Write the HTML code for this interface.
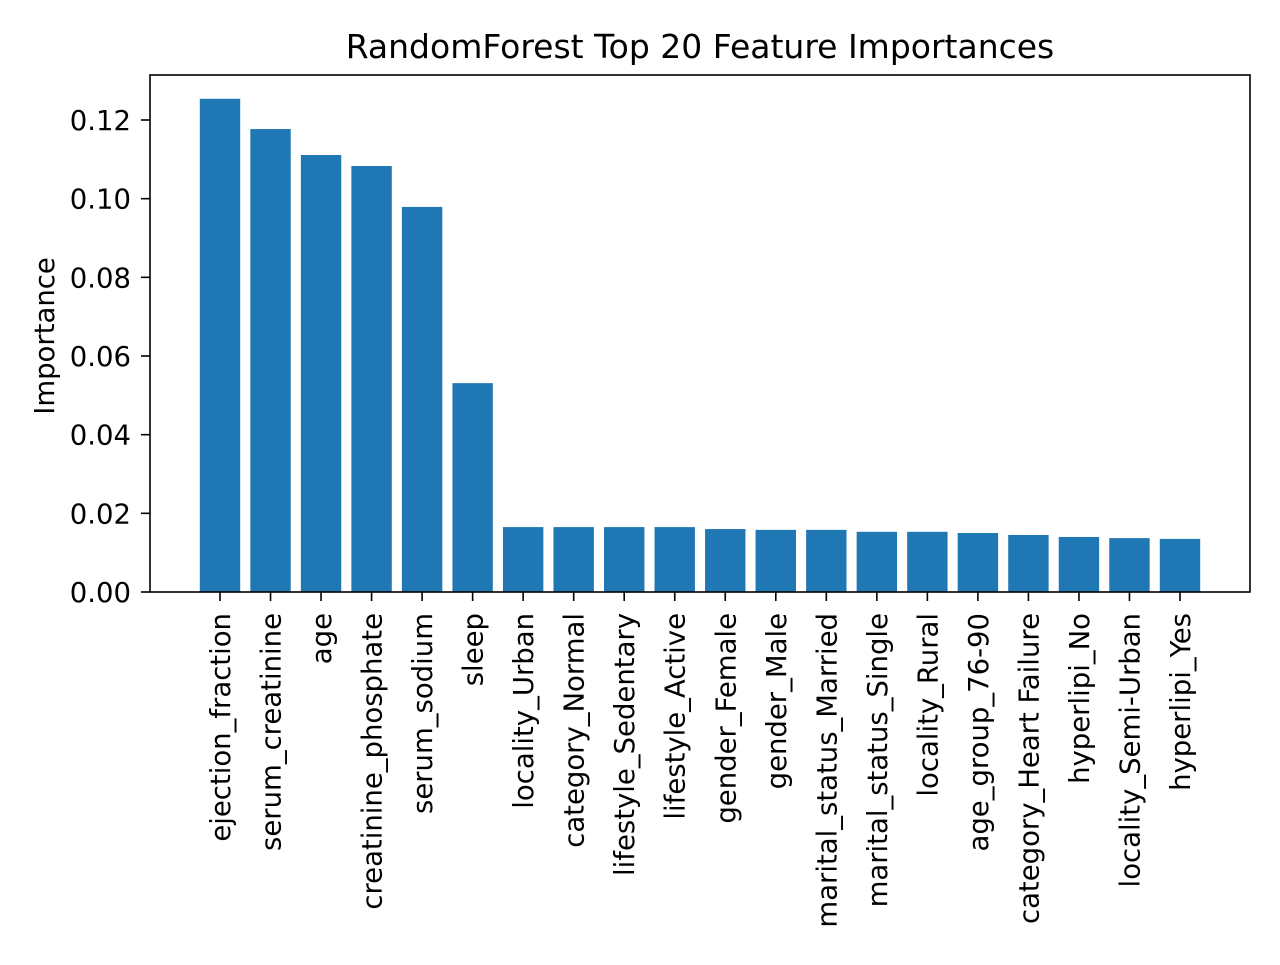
<!DOCTYPE html>
<html><head><meta charset="utf-8"><style>
html,body{margin:0;padding:0;background:#fff;}
svg text{font-family:"DejaVu Sans","Liberation Sans",sans-serif;fill:#000;}
</style></head><body>
<svg id="chart" width="1280" height="960" xmlns="http://www.w3.org/2000/svg">
<rect width="1280" height="960" fill="#fff"/>
<g id="bars"></g><g id="axes"></g>
<text x="700" y="58" font-size="33" text-anchor="middle">RandomForest Top 20 Feature Importances</text>
<text transform="translate(54,336) rotate(-90)" font-size="27.5" text-anchor="middle">Importance</text>
<rect x="150" y="75" width="1100" height="517" fill="none" stroke="#000" stroke-width="1.6"/>
</svg>
<script>
const categories=["ejection_fraction","serum_creatinine","age","creatinine_phosphate","serum_sodium","sleep","locality_Urban","category_Normal","lifestyle_Sedentary","lifestyle_Active","gender_Female","gender_Male","marital_status_Married","marital_status_Single","locality_Rural","age_group_76-90","category_Heart Failure","hyperlipi_No","locality_Semi-Urban","hyperlipi_Yes"];
const values=[0.1254,0.1177,0.1111,0.1083,0.0979,0.0531,0.0165,0.0165,0.0165,0.0165,0.0160,0.0158,0.0158,0.0153,0.0153,0.0150,0.0145,0.0140,0.0137,0.0135];
const yTicks=[0,0.02,0.04,0.06,0.08,0.10,0.12];
const yTickLabels=["0.00","0.02","0.04","0.06","0.08","0.10","0.12"];
const NS="http://www.w3.org/2000/svg";
const y=v=>592-v*3933.3;
const x=i=>220+i*50.526;
const bw=40.4;
const bars=document.getElementById('bars'),axes=document.getElementById('axes');
function mk(tag,attrs,parent){const e=document.createElementNS(NS,tag);for(const k in attrs)e.setAttribute(k,attrs[k]);parent.appendChild(e);return e;}
values.forEach((v,i)=>{
  const r=mk('rect',{x:x(i)-bw/2,y:y(v),width:bw,height:592-y(v),fill:'#1f77b4'},bars);
  
  
  const t=mk('line',{x1:x(i),x2:x(i),y1:592,y2:601,stroke:'#000','stroke-width':1.6},axes);
  
  
  const l=mk('text',{transform:`translate(${x(i)+10},613) rotate(-90)`,'font-size':27.5,'text-anchor':'end'},axes);
  l.textContent=categories[i];
  
  
});
yTicks.forEach((v,i)=>{
  const t=mk('line',{x1:141,x2:150,y1:y(v),y2:y(v),stroke:'#000','stroke-width':1.6},axes);
  
  
  const l=mk('text',{x:131,y:y(v)+10,'font-size':27.5,'text-anchor':'end'},axes);
  l.textContent=yTickLabels[i];
  
  
});
</script>
</body></html>
